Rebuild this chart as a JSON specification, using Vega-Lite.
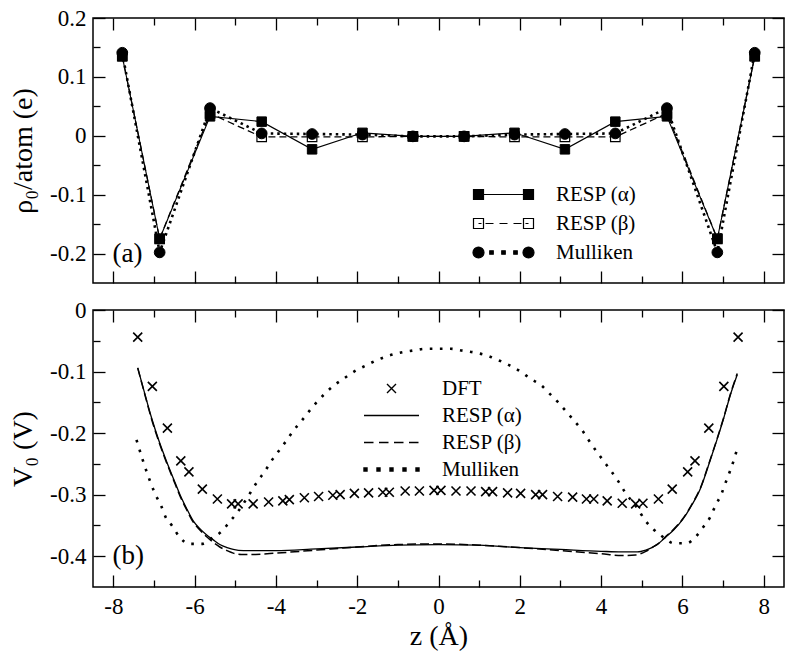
{
  "$schema": "https://vega.github.io/schema/vega-lite/v6.json",
  "background": "white",
  "padding": {"left": 8, "top": 6, "right": 10, "bottom": 4},
  "spacing": 27,
  "bounds": "flush",
  "config": {
    "font": "Liberation Serif, Times New Roman, Times, serif",
    "view": {"stroke": "black", "strokeWidth": 1.5},
    "axis": {"grid": false, "domain": false, "tickColor": "black", "tickWidth": 1.3, "labelColor": "black", "titleColor": "black", "labelFont": "Liberation Serif, Times New Roman, Times, serif", "titleFont": "Liberation Serif, Times New Roman, Times, serif", "labelFontSize": 23, "titleFontSize": 28, "titleFontWeight": "normal"},
    "legend": {"labelFont": "Liberation Serif, Times New Roman, Times, serif", "labelFontSize": 21, "labelColor": "black"},
    "text": {"font": "Liberation Serif, Times New Roman, Times, serif"}
  },
  "datasets": {
    "charges": [
      {"z": -7.78, "series": "RESP (α)", "q": 0.135}, {"z": -6.86, "series": "RESP (α)", "q": -0.175}, {"z": -5.62, "series": "RESP (α)", "q": 0.033}, {"z": -4.35, "series": "RESP (α)", "q": 0.024}, {"z": -3.11, "series": "RESP (α)", "q": -0.023}, {"z": -1.87, "series": "RESP (α)", "q": 0.005}, {"z": -0.63, "series": "RESP (α)", "q": -0.001}, {"z": 0.63, "series": "RESP (α)", "q": -0.001}, {"z": 1.87, "series": "RESP (α)", "q": 0.005}, {"z": 3.11, "series": "RESP (α)", "q": -0.023}, {"z": 4.35, "series": "RESP (α)", "q": 0.024}, {"z": 5.62, "series": "RESP (α)", "q": 0.033}, {"z": 6.86, "series": "RESP (α)", "q": -0.175}, {"z": 7.78, "series": "RESP (α)", "q": 0.135},
      {"z": -7.78, "series": "RESP (β)", "q": 0.135}, {"z": -6.86, "series": "RESP (β)", "q": -0.175}, {"z": -5.62, "series": "RESP (β)", "q": 0.038}, {"z": -4.35, "series": "RESP (β)", "q": -0.002}, {"z": -3.11, "series": "RESP (β)", "q": -0.002}, {"z": -1.87, "series": "RESP (β)", "q": -0.002}, {"z": -0.63, "series": "RESP (β)", "q": -0.001}, {"z": 0.63, "series": "RESP (β)", "q": -0.001}, {"z": 1.87, "series": "RESP (β)", "q": -0.002}, {"z": 3.11, "series": "RESP (β)", "q": -0.002}, {"z": 4.35, "series": "RESP (β)", "q": -0.002}, {"z": 5.62, "series": "RESP (β)", "q": 0.038}, {"z": 6.86, "series": "RESP (β)", "q": -0.175}, {"z": 7.78, "series": "RESP (β)", "q": 0.135},
      {"z": -7.78, "series": "Mulliken", "q": 0.141}, {"z": -6.86, "series": "Mulliken", "q": -0.198}, {"z": -5.62, "series": "Mulliken", "q": 0.047}, {"z": -4.35, "series": "Mulliken", "q": 0.004}, {"z": -3.11, "series": "Mulliken", "q": 0.003}, {"z": -1.87, "series": "Mulliken", "q": 0.002}, {"z": -0.63, "series": "Mulliken", "q": -0.001}, {"z": 0.63, "series": "Mulliken", "q": -0.001}, {"z": 1.87, "series": "Mulliken", "q": 0.002}, {"z": 3.11, "series": "Mulliken", "q": 0.003}, {"z": 4.35, "series": "Mulliken", "q": 0.004}, {"z": 5.62, "series": "Mulliken", "q": 0.047}, {"z": 6.86, "series": "Mulliken", "q": -0.198}, {"z": 7.78, "series": "Mulliken", "q": 0.141}
    ],
    "potential": [
      {"z": -7.40, "series": "DFT", "v": -0.044}, {"z": -7.04, "series": "DFT", "v": -0.124}, {"z": -6.67, "series": "DFT", "v": -0.192}, {"z": -6.34, "series": "DFT", "v": -0.245}, {"z": -6.14, "series": "DFT", "v": -0.263}, {"z": -5.81, "series": "DFT", "v": -0.291}, {"z": -5.44, "series": "DFT", "v": -0.307}, {"z": -5.09, "series": "DFT", "v": -0.315}, {"z": -4.93, "series": "DFT", "v": -0.315}, {"z": -4.56, "series": "DFT", "v": -0.315}, {"z": -4.18, "series": "DFT", "v": -0.312}, {"z": -3.83, "series": "DFT", "v": -0.310}, {"z": -3.67, "series": "DFT", "v": -0.308}, {"z": -3.30, "series": "DFT", "v": -0.305}, {"z": -2.95, "series": "DFT", "v": -0.303}, {"z": -2.60, "series": "DFT", "v": -0.301}, {"z": -2.42, "series": "DFT", "v": -0.300}, {"z": -2.07, "series": "DFT", "v": -0.298}, {"z": -1.72, "series": "DFT", "v": -0.297}, {"z": -1.37, "series": "DFT", "v": -0.296}, {"z": -1.21, "series": "DFT", "v": -0.296}, {"z": -0.82, "series": "DFT", "v": -0.294}, {"z": -0.47, "series": "DFT", "v": -0.294}, {"z": -0.11, "series": "DFT", "v": -0.293}, {"z": 0.06, "series": "DFT", "v": -0.293}, {"z": 0.43, "series": "DFT", "v": -0.294}, {"z": 0.80, "series": "DFT", "v": -0.294}, {"z": 1.16, "series": "DFT", "v": -0.295}, {"z": 1.33, "series": "DFT", "v": -0.295}, {"z": 1.70, "series": "DFT", "v": -0.297}, {"z": 2.02, "series": "DFT", "v": -0.298}, {"z": 2.39, "series": "DFT", "v": -0.300}, {"z": 2.56, "series": "DFT", "v": -0.300}, {"z": 2.93, "series": "DFT", "v": -0.303}, {"z": 3.30, "series": "DFT", "v": -0.304}, {"z": 3.64, "series": "DFT", "v": -0.307}, {"z": 3.82, "series": "DFT", "v": -0.307}, {"z": 4.15, "series": "DFT", "v": -0.310}, {"z": 4.52, "series": "DFT", "v": -0.314}, {"z": 4.85, "series": "DFT", "v": -0.315}, {"z": 5.03, "series": "DFT", "v": -0.314}, {"z": 5.41, "series": "DFT", "v": -0.307}, {"z": 5.75, "series": "DFT", "v": -0.291}, {"z": 6.13, "series": "DFT", "v": -0.263}, {"z": 6.31, "series": "DFT", "v": -0.245}, {"z": 6.65, "series": "DFT", "v": -0.192}, {"z": 7.02, "series": "DFT", "v": -0.124}, {"z": 7.37, "series": "DFT", "v": -0.044},
      {"z": -7.40, "series": "RESP (α)", "v": -0.094}, {"z": -7.23, "series": "RESP (α)", "v": -0.135}, {"z": -7.06, "series": "RESP (α)", "v": -0.175}, {"z": -6.88, "series": "RESP (α)", "v": -0.212}, {"z": -6.69, "series": "RESP (α)", "v": -0.246}, {"z": -6.52, "series": "RESP (α)", "v": -0.274}, {"z": -6.36, "series": "RESP (α)", "v": -0.300}, {"z": -6.20, "series": "RESP (α)", "v": -0.322}, {"z": -6.03, "series": "RESP (α)", "v": -0.343}, {"z": -5.86, "series": "RESP (α)", "v": -0.356}, {"z": -5.71, "series": "RESP (α)", "v": -0.365}, {"z": -5.55, "series": "RESP (α)", "v": -0.373}, {"z": -5.38, "series": "RESP (α)", "v": -0.381}, {"z": -5.20, "series": "RESP (α)", "v": -0.386}, {"z": -5.05, "series": "RESP (α)", "v": -0.389}, {"z": -4.80, "series": "RESP (α)", "v": -0.391}, {"z": -4.40, "series": "RESP (α)", "v": -0.391}, {"z": -4.00, "series": "RESP (α)", "v": -0.391}, {"z": -3.00, "series": "RESP (α)", "v": -0.388}, {"z": -2.00, "series": "RESP (α)", "v": -0.385}, {"z": -1.00, "series": "RESP (α)", "v": -0.382}, {"z": 0.00, "series": "RESP (α)", "v": -0.381}, {"z": 1.00, "series": "RESP (α)", "v": -0.382}, {"z": 2.00, "series": "RESP (α)", "v": -0.386}, {"z": 3.00, "series": "RESP (α)", "v": -0.389}, {"z": 4.00, "series": "RESP (α)", "v": -0.392}, {"z": 4.50, "series": "RESP (α)", "v": -0.393}, {"z": 4.89, "series": "RESP (α)", "v": -0.393}, {"z": 5.10, "series": "RESP (α)", "v": -0.390}, {"z": 5.25, "series": "RESP (α)", "v": -0.386}, {"z": 5.38, "series": "RESP (α)", "v": -0.381}, {"z": 5.59, "series": "RESP (α)", "v": -0.369}, {"z": 5.79, "series": "RESP (α)", "v": -0.357}, {"z": 6.00, "series": "RESP (α)", "v": -0.341}, {"z": 6.24, "series": "RESP (α)", "v": -0.316}, {"z": 6.45, "series": "RESP (α)", "v": -0.289}, {"z": 6.65, "series": "RESP (α)", "v": -0.251}, {"z": 6.84, "series": "RESP (α)", "v": -0.213}, {"z": 7.02, "series": "RESP (α)", "v": -0.175}, {"z": 7.18, "series": "RESP (α)", "v": -0.138}, {"z": 7.35, "series": "RESP (α)", "v": -0.105},
      {"z": -7.40, "series": "RESP (β)", "v": -0.094}, {"z": -7.23, "series": "RESP (β)", "v": -0.136}, {"z": -7.06, "series": "RESP (β)", "v": -0.177}, {"z": -6.88, "series": "RESP (β)", "v": -0.214}, {"z": -6.69, "series": "RESP (β)", "v": -0.248}, {"z": -6.52, "series": "RESP (β)", "v": -0.276}, {"z": -6.36, "series": "RESP (β)", "v": -0.302}, {"z": -6.20, "series": "RESP (β)", "v": -0.324}, {"z": -6.03, "series": "RESP (β)", "v": -0.345}, {"z": -5.86, "series": "RESP (β)", "v": -0.358}, {"z": -5.71, "series": "RESP (β)", "v": -0.368}, {"z": -5.55, "series": "RESP (β)", "v": -0.377}, {"z": -5.38, "series": "RESP (β)", "v": -0.385}, {"z": -5.20, "series": "RESP (β)", "v": -0.391}, {"z": -5.05, "series": "RESP (β)", "v": -0.395}, {"z": -4.85, "series": "RESP (β)", "v": -0.397}, {"z": -4.50, "series": "RESP (β)", "v": -0.397}, {"z": -4.00, "series": "RESP (β)", "v": -0.395}, {"z": -3.00, "series": "RESP (β)", "v": -0.390}, {"z": -2.00, "series": "RESP (β)", "v": -0.385}, {"z": -1.00, "series": "RESP (β)", "v": -0.381}, {"z": 0.00, "series": "RESP (β)", "v": -0.380}, {"z": 1.00, "series": "RESP (β)", "v": -0.382}, {"z": 2.00, "series": "RESP (β)", "v": -0.386}, {"z": 3.00, "series": "RESP (β)", "v": -0.391}, {"z": 4.00, "series": "RESP (β)", "v": -0.396}, {"z": 4.50, "series": "RESP (β)", "v": -0.399}, {"z": 4.85, "series": "RESP (β)", "v": -0.398}, {"z": 5.10, "series": "RESP (β)", "v": -0.392}, {"z": 5.25, "series": "RESP (β)", "v": -0.386}, {"z": 5.40, "series": "RESP (β)", "v": -0.380}, {"z": 5.59, "series": "RESP (β)", "v": -0.368}, {"z": 5.79, "series": "RESP (β)", "v": -0.356}, {"z": 6.00, "series": "RESP (β)", "v": -0.340}, {"z": 6.24, "series": "RESP (β)", "v": -0.315}, {"z": 6.45, "series": "RESP (β)", "v": -0.288}, {"z": 6.65, "series": "RESP (β)", "v": -0.250}, {"z": 6.84, "series": "RESP (β)", "v": -0.212}, {"z": 7.02, "series": "RESP (β)", "v": -0.174}, {"z": 7.18, "series": "RESP (β)", "v": -0.137}, {"z": 7.35, "series": "RESP (β)", "v": -0.103},
      {"z": -7.43, "series": "Mulliken", "v": -0.211}, {"z": -7.28, "series": "Mulliken", "v": -0.243}, {"z": -7.08, "series": "Mulliken", "v": -0.281}, {"z": -6.97, "series": "Mulliken", "v": -0.299}, {"z": -6.83, "series": "Mulliken", "v": -0.317}, {"z": -6.71, "series": "Mulliken", "v": -0.337}, {"z": -6.55, "series": "Mulliken", "v": -0.351}, {"z": -6.38, "series": "Mulliken", "v": -0.368}, {"z": -6.13, "series": "Mulliken", "v": -0.380}, {"z": -5.83, "series": "Mulliken", "v": -0.380}, {"z": -5.56, "series": "Mulliken", "v": -0.370}, {"z": -5.34, "series": "Mulliken", "v": -0.360}, {"z": -5.15, "series": "Mulliken", "v": -0.345}, {"z": -4.95, "series": "Mulliken", "v": -0.329}, {"z": -4.63, "series": "Mulliken", "v": -0.297}, {"z": -4.45, "series": "Mulliken", "v": -0.278}, {"z": -4.27, "series": "Mulliken", "v": -0.262}, {"z": -4.11, "series": "Mulliken", "v": -0.245}, {"z": -3.94, "series": "Mulliken", "v": -0.230}, {"z": -3.75, "series": "Mulliken", "v": -0.213}, {"z": -3.57, "series": "Mulliken", "v": -0.196}, {"z": -3.38, "series": "Mulliken", "v": -0.181}, {"z": -3.19, "series": "Mulliken", "v": -0.165}, {"z": -3.00, "series": "Mulliken", "v": -0.150}, {"z": -2.78, "series": "Mulliken", "v": -0.135}, {"z": -2.56, "series": "Mulliken", "v": -0.122}, {"z": -2.30, "series": "Mulliken", "v": -0.110}, {"z": -2.05, "series": "Mulliken", "v": -0.099}, {"z": -1.78, "series": "Mulliken", "v": -0.090}, {"z": -1.50, "series": "Mulliken", "v": -0.081}, {"z": -1.21, "series": "Mulliken", "v": -0.074}, {"z": -0.92, "series": "Mulliken", "v": -0.069}, {"z": -0.64, "series": "Mulliken", "v": -0.066}, {"z": -0.31, "series": "Mulliken", "v": -0.063}, {"z": 0.00, "series": "Mulliken", "v": -0.063}, {"z": 0.30, "series": "Mulliken", "v": -0.063}, {"z": 0.59, "series": "Mulliken", "v": -0.066}, {"z": 0.88, "series": "Mulliken", "v": -0.069}, {"z": 1.19, "series": "Mulliken", "v": -0.074}, {"z": 1.49, "series": "Mulliken", "v": -0.082}, {"z": 1.75, "series": "Mulliken", "v": -0.090}, {"z": 2.02, "series": "Mulliken", "v": -0.100}, {"z": 2.27, "series": "Mulliken", "v": -0.112}, {"z": 2.52, "series": "Mulliken", "v": -0.122}, {"z": 2.72, "series": "Mulliken", "v": -0.135}, {"z": 2.93, "series": "Mulliken", "v": -0.149}, {"z": 3.13, "series": "Mulliken", "v": -0.164}, {"z": 3.34, "series": "Mulliken", "v": -0.180}, {"z": 3.54, "series": "Mulliken", "v": -0.196}, {"z": 3.70, "series": "Mulliken", "v": -0.212}, {"z": 3.89, "series": "Mulliken", "v": -0.230}, {"z": 4.07, "series": "Mulliken", "v": -0.246}, {"z": 4.25, "series": "Mulliken", "v": -0.262}, {"z": 4.42, "series": "Mulliken", "v": -0.278}, {"z": 4.58, "series": "Mulliken", "v": -0.295}, {"z": 4.89, "series": "Mulliken", "v": -0.322}, {"z": 5.10, "series": "Mulliken", "v": -0.343}, {"z": 5.30, "series": "Mulliken", "v": -0.357}, {"z": 5.55, "series": "Mulliken", "v": -0.370}, {"z": 5.79, "series": "Mulliken", "v": -0.379}, {"z": 6.10, "series": "Mulliken", "v": -0.379}, {"z": 6.32, "series": "Mulliken", "v": -0.369}, {"z": 6.51, "series": "Mulliken", "v": -0.353}, {"z": 6.68, "series": "Mulliken", "v": -0.337}, {"z": 6.82, "series": "Mulliken", "v": -0.317}, {"z": 6.96, "series": "Mulliken", "v": -0.299}, {"z": 7.06, "series": "Mulliken", "v": -0.281}, {"z": 7.17, "series": "Mulliken", "v": -0.262}, {"z": 7.27, "series": "Mulliken", "v": -0.243}, {"z": 7.36, "series": "Mulliken", "v": -0.223}
    ]
  },
  "vconcat": [
    {
      "width": 691,
      "height": 265,
      "resolve": {"axis": {"x": "independent", "y": "independent"}},
      "layer": [
        {
          "data": {"name": "charges"},
          "transform": [{"filter": "datum.series === 'RESP (α)'"}],
          "mark": {"type": "line", "color": "black", "strokeWidth": 1.1},
          "encoding": {
            "x": {"field": "z", "type": "quantitative", "scale": {"domain": [-8.5, 8.5], "nice": false, "zero": false}, "axis": {"orient": "bottom", "values": [-8, -6, -4, -2, 0, 2, 4, 6, 8], "tickSize": -12, "labels": false, "title": null}},
            "y": {"field": "q", "type": "quantitative", "scale": {"domain": [-0.25, 0.2], "nice": false, "zero": false}, "axis": {"orient": "left", "values": [-0.2, -0.1, 0, 0.1, 0.2], "tickSize": -12, "labelPadding": 19, "labelExpr": "datum.value < 0 ? '-' + format(-datum.value, '~g') : format(datum.value, '~g')", "title": "ρ₀/atom (e)", "titlePadding": 12}}
          }
        },
        {
          "data": {"name": "charges"},
          "transform": [{"filter": "datum.series === 'RESP (β)'"}],
          "mark": {"type": "line", "color": "black", "strokeWidth": 1.3, "strokeDash": [7, 4]},
          "encoding": {
            "x": {"field": "z", "type": "quantitative", "scale": {"domain": [-8.5, 8.5], "nice": false, "zero": false}, "axis": {"orient": "bottom", "values": [-7, -5, -3, -1, 1, 3, 5, 7], "tickSize": -7, "labels": false, "title": null}},
            "y": {"field": "q", "type": "quantitative", "scale": {"domain": [-0.25, 0.2], "nice": false, "zero": false}, "axis": {"orient": "left", "values": [-0.15, -0.05, 0.05, 0.15], "tickSize": -7, "labels": false, "title": null}}
          }
        },
        {
          "data": {"name": "charges"},
          "transform": [{"filter": "datum.series === 'Mulliken'"}],
          "mark": {"type": "line", "color": "black", "strokeWidth": 2.6, "strokeDash": [2.5, 4]},
          "encoding": {
            "x": {"field": "z", "type": "quantitative", "scale": {"domain": [-8.5, 8.5], "nice": false, "zero": false}, "axis": {"orient": "top", "values": [-8, -6, -4, -2, 0, 2, 4, 6, 8], "tickSize": -12, "labels": false, "title": null}},
            "y": {"field": "q", "type": "quantitative", "scale": {"domain": [-0.25, 0.2], "nice": false, "zero": false}, "axis": {"orient": "right", "values": [-0.2, -0.1, 0, 0.1, 0.2], "tickSize": -12, "labels": false, "title": null}}
          }
        },
        {
          "data": {"name": "charges"},
          "transform": [{"filter": "datum.series === 'RESP (β)'"}],
          "mark": {"type": "point", "shape": "square", "size": 90, "filled": true, "fill": "white", "stroke": "black", "strokeWidth": 1.2, "opacity": 1},
          "encoding": {
            "x": {"field": "z", "type": "quantitative", "scale": {"domain": [-8.5, 8.5], "nice": false, "zero": false}, "axis": {"orient": "top", "values": [-7, -5, -3, -1, 1, 3, 5, 7], "tickSize": -7, "labels": false, "title": null}},
            "y": {"field": "q", "type": "quantitative", "scale": {"domain": [-0.25, 0.2], "nice": false, "zero": false}, "axis": {"orient": "right", "values": [-0.15, -0.05, 0.05, 0.15], "tickSize": -7, "labels": false, "title": null}}
          }
        },
        {
          "data": {"name": "charges"},
          "transform": [{"filter": "datum.series === 'RESP (α)'"}],
          "mark": {"type": "point", "shape": "square", "size": 90, "filled": true, "fill": "black", "stroke": "black", "strokeWidth": 1, "opacity": 1},
          "encoding": {
            "x": {"field": "z", "type": "quantitative", "scale": {"domain": [-8.5, 8.5], "nice": false, "zero": false}, "axis": null},
            "y": {"field": "q", "type": "quantitative", "scale": {"domain": [-0.25, 0.2], "nice": false, "zero": false}, "axis": null}
          }
        },
        {
          "data": {"name": "charges"},
          "transform": [{"filter": "datum.series === 'Mulliken'"}],
          "mark": {"type": "point", "shape": "circle", "size": 115, "filled": true, "fill": "black", "stroke": "black", "strokeWidth": 1, "opacity": 1},
          "encoding": {
            "x": {"field": "z", "type": "quantitative", "scale": {"domain": [-8.5, 8.5], "nice": false, "zero": false}, "axis": null},
            "y": {"field": "q", "type": "quantitative", "scale": {"domain": [-0.25, 0.2], "nice": false, "zero": false}, "axis": null}
          }
        },
        {
          "data": {"name": "charges"},
          "transform": [{"filter": "false"}],
          "mark": {"type": "point", "filled": true, "stroke": "black", "strokeWidth": 1.2, "opacity": 1},
          "encoding": {
            "x": {"field": "z", "type": "quantitative", "scale": {"domain": [-8.5, 8.5], "nice": false, "zero": false}, "axis": null},
            "y": {"field": "q", "type": "quantitative", "scale": {"domain": [-0.25, 0.2], "nice": false, "zero": false}, "axis": null},
            "shape": {"field": "series", "type": "nominal", "scale": {"domain": ["RESP (α)", "RESP (β)", "Mulliken"], "range": ["M-6,-1H-4V1H-6Z M-4,0H4 M4,-1H6V1H4Z", "M-6,-1H-4V1H-6Z M4,-1H6V1H4Z M-5,0H-4.4 M-3.6,0H-2 M-0.8,0H0.8 M2,0H3.6 M4.4,0H5", "M-6.1,0A1.1,1.1 0 1,0 -3.9,0A1.1,1.1 0 1,0 -6.1,0Z M3.9,0A1.1,1.1 0 1,0 6.1,0A1.1,1.1 0 1,0 3.9,0Z M-2.75,-0.35h0.7v0.7h-0.7Z M-0.35,-0.35h0.7v0.7h-0.7Z M2.05,-0.35h0.7v0.7h-0.7Z"]}, "legend": {"orient": "none", "legendX": 400, "legendY": 166, "title": null, "symbolSize": 100, "symbolStrokeWidth": 1.2, "labelOffset": 42, "rowPadding": 7}},
            "fill": {"field": "series", "type": "nominal", "scale": {"domain": ["RESP (α)", "RESP (β)", "Mulliken"], "range": ["black", "transparent", "black"]}, "legend": {"orient": "none", "legendX": 400, "legendY": 166, "title": null, "symbolSize": 100, "symbolStrokeWidth": 1.2, "labelOffset": 42, "rowPadding": 7}}
          }
        },
        {
          "data": {"values": [{"label": "(a)"}]},
          "mark": {"type": "text", "align": "left", "baseline": "middle", "fontSize": 27, "color": "black"},
          "encoding": {
            "x": {"datum": -8.02, "type": "quantitative", "scale": {"domain": [-8.5, 8.5], "nice": false, "zero": false}, "axis": null},
            "y": {"datum": -0.2, "type": "quantitative", "scale": {"domain": [-0.25, 0.2], "nice": false, "zero": false}, "axis": null},
            "text": {"field": "label"}
          }
        }
      ]
    },
    {
      "width": 691,
      "height": 277,
      "resolve": {"axis": {"x": "independent", "y": "independent"}},
      "layer": [
        {
          "data": {"name": "potential"},
          "transform": [{"filter": "datum.series === 'RESP (α)'"}],
          "mark": {"type": "line", "color": "black", "strokeWidth": 1.3, "interpolate": "monotone"},
          "encoding": {
            "x": {"field": "z", "type": "quantitative", "scale": {"domain": [-8.5, 8.5], "nice": false, "zero": false}, "axis": {"orient": "bottom", "values": [-8, -6, -4, -2, 0, 2, 4, 6, 8], "tickSize": -12, "labelPadding": 20, "labelExpr": "datum.value < 0 ? '-' + format(-datum.value, '~g') : format(datum.value, '~g')", "title": "z (Å)", "titlePadding": 4}},
            "y": {"field": "v", "type": "quantitative", "scale": {"domain": [-0.45, 0], "nice": false, "zero": false}, "axis": {"orient": "left", "values": [-0.4, -0.3, -0.2, -0.1, 0], "tickSize": -12, "labelPadding": 19, "labelExpr": "datum.value < 0 ? '-' + format(-datum.value, '~g') : format(datum.value, '~g')", "title": "V₀ (V)", "titlePadding": 12}}
          }
        },
        {
          "data": {"name": "potential"},
          "transform": [{"filter": "datum.series === 'RESP (β)'"}],
          "mark": {"type": "line", "color": "black", "strokeWidth": 1.5, "strokeDash": [9, 4], "interpolate": "monotone"},
          "encoding": {
            "x": {"field": "z", "type": "quantitative", "scale": {"domain": [-8.5, 8.5], "nice": false, "zero": false}, "axis": {"orient": "bottom", "values": [-7, -5, -3, -1, 1, 3, 5, 7], "tickSize": -7, "labels": false, "title": null}},
            "y": {"field": "v", "type": "quantitative", "scale": {"domain": [-0.45, 0], "nice": false, "zero": false}, "axis": {"orient": "left", "values": [-0.35, -0.25, -0.15, -0.05], "tickSize": -7, "labels": false, "title": null}}
          }
        },
        {
          "data": {"name": "potential"},
          "transform": [{"filter": "datum.series === 'Mulliken'"}],
          "mark": {"type": "line", "color": "black", "strokeWidth": 2.6, "strokeDash": [2.6, 7.5], "interpolate": "monotone"},
          "encoding": {
            "x": {"field": "z", "type": "quantitative", "scale": {"domain": [-8.5, 8.5], "nice": false, "zero": false}, "axis": {"orient": "top", "values": [-8, -6, -4, -2, 0, 2, 4, 6, 8], "tickSize": -12, "labels": false, "title": null}},
            "y": {"field": "v", "type": "quantitative", "scale": {"domain": [-0.45, 0], "nice": false, "zero": false}, "axis": {"orient": "right", "values": [-0.4, -0.3, -0.2, -0.1, 0], "tickSize": -12, "labels": false, "title": null}}
          }
        },
        {
          "data": {"name": "potential"},
          "transform": [{"filter": "datum.series === 'DFT'"}],
          "mark": {"type": "point", "shape": "M-1,-1L1,1M-1,1L1,-1", "size": 81, "filled": false, "stroke": "black", "strokeWidth": 1.6, "opacity": 1},
          "encoding": {
            "x": {"field": "z", "type": "quantitative", "scale": {"domain": [-8.5, 8.5], "nice": false, "zero": false}, "axis": {"orient": "top", "values": [-7, -5, -3, -1, 1, 3, 5, 7], "tickSize": -7, "labels": false, "title": null}},
            "y": {"field": "v", "type": "quantitative", "scale": {"domain": [-0.45, 0], "nice": false, "zero": false}, "axis": {"orient": "right", "values": [-0.35, -0.25, -0.15, -0.05], "tickSize": -7, "labels": false, "title": null}}
          }
        },
        {
          "data": {"name": "potential"},
          "transform": [{"filter": "false"}],
          "mark": {"type": "point", "filled": true, "fill": "black", "stroke": "black", "strokeWidth": 1.4, "opacity": 1},
          "encoding": {
            "x": {"field": "z", "type": "quantitative", "scale": {"domain": [-8.5, 8.5], "nice": false, "zero": false}, "axis": null},
            "y": {"field": "v", "type": "quantitative", "scale": {"domain": [-0.45, 0], "nice": false, "zero": false}, "axis": null},
            "shape": {"field": "series", "type": "nominal", "scale": {"domain": ["DFT", "RESP (α)", "RESP (β)", "Mulliken"], "range": ["M-0.9,-0.9L0.9,0.9M-0.9,0.9L0.9,-0.9", "M-5.5,0H5.5", "M-5.5,0H-3.6M-2.5,0H-0.6M0.5,0H2.4M3.5,0H5.4", "M-5.5,-0.3h0.6v0.6h-0.6Z M-2.9,-0.3h0.6v0.6h-0.6Z M-0.3,-0.3h0.6v0.6h-0.6Z M2.3,-0.3h0.6v0.6h-0.6Z M4.9,-0.3h0.6v0.6h-0.6Z"]}, "legend": {"orient": "none", "legendX": 288, "legendY": 68, "title": null, "symbolSize": 100, "symbolStrokeWidth": 1.4, "labelOffset": 40, "rowPadding": 5}}
          }
        },
        {
          "data": {"values": [{"label": "(b)"}]},
          "mark": {"type": "text", "align": "left", "baseline": "middle", "fontSize": 27, "color": "black"},
          "encoding": {
            "x": {"datum": -8.02, "type": "quantitative", "scale": {"domain": [-8.5, 8.5], "nice": false, "zero": false}, "axis": null},
            "y": {"datum": -0.4, "type": "quantitative", "scale": {"domain": [-0.45, 0], "nice": false, "zero": false}, "axis": null},
            "text": {"field": "label"}
          }
        }
      ]
    }
  ],
  "resolve": {"scale": {"shape": "independent", "fill": "independent"}, "legend": {"shape": "independent", "fill": "independent"}}
}
